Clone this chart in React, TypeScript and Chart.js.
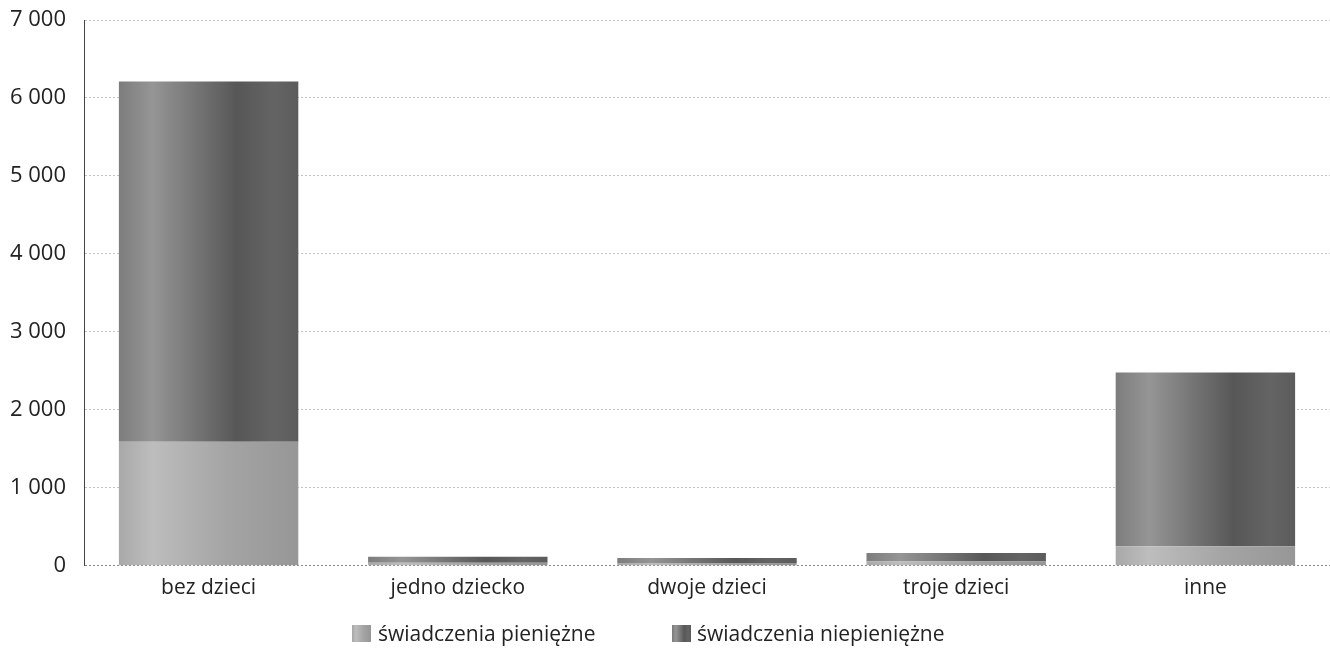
import React, { useEffect, useRef } from "react";
import { Chart, registerables } from "chart.js";

Chart.register(...registerables);

const categories = ["bez dzieci", "jedno dziecko", "dwoje dzieci", "troje dzieci", "inne"];
const pieniezne = [1590, 40, 35, 55, 250];
const niepieniezne = [4620, 75, 65, 110, 2230];
const seriesNames = ["świadczenia pieniężne", "świadczenia niepieniężne"];
const yTicks = [0, 1000, 2000, 3000, 4000, 5000, 6000, 7000];

const FONT = "'Open Sans', 'DejaVu Sans', sans-serif";

const pienStops: [number, string][] = [
  [0, "#a6a6a6"],
  [0.2, "#bdbdbd"],
  [0.6, "#a4a4a4"],
  [1, "#969696"],
];
const niepienStops: [number, string][] = [
  [0, "#7a7a7a"],
  [0.2, "#959595"],
  [0.65, "#575757"],
  [0.85, "#646464"],
  [1, "#5a5a5a"],
];

function barGradient(stops: [number, string][]) {
  return (ctx: any) => {
    const chart = ctx.chart;
    const xs = chart.scales?.x;
    if (ctx.type !== "data" || !xs || ctx.dataIndex === undefined) return stops[1][1];
    const c = xs.getPixelForValue(ctx.dataIndex);
    const step = categories.length > 1 ? xs.getPixelForValue(1) - xs.getPixelForValue(0) : 200;
    const w = step * 0.75;
    if (!isFinite(c) || !isFinite(w) || w <= 0) return stops[1][1];
    const g = chart.ctx.createLinearGradient(c - w / 2, 0, c + w / 2, 0);
    stops.forEach(([o, col]) => g.addColorStop(o, col));
    return g;
  };
}

function cssGradient(stops: [number, string][]) {
  return `linear-gradient(to right, ${stops.map(([o, c]) => `${c} ${o * 100}%`).join(", ")})`;
}

export default function App() {
  const ref = useRef<HTMLCanvasElement>(null);
  useEffect(() => {
    document.body.style.margin = "0";
    const chart = new Chart(ref.current!, {
      type: "bar",
      data: {
        labels: categories,
        datasets: [
          { label: seriesNames[0], data: pieniezne, backgroundColor: barGradient(pienStops), borderWidth: 0 },
          { label: seriesNames[1], data: niepieniezne, backgroundColor: barGradient(niepienStops), borderWidth: 0 },
        ],
      },
      options: {
        animation: false,
        responsive: false,
        layout: { padding: { top: 20, left: 9, right: 0, bottom: 38 } },
        plugins: {
          tooltip: { enabled: false },
          legend: { display: false },
        },
        scales: {
          x: {
            stacked: true,
            barPercentage: 0.75,
            categoryPercentage: 1,
            grid: { display: false, drawTicks: false },
            border: { display: false },
            ticks: { font: { family: FONT, size: 21 }, color: "#222", padding: 10 },
          } as any,
          y: {
            stacked: true,
            min: 0,
            max: 7000,
            afterBuildTicks: (axis: any) => {
              axis.ticks = yTicks.map((v) => ({ value: v }));
            },
            afterFit: (axis: any) => {
              axis.width = 75;
              axis.paddingTop = 0;
              axis.paddingBottom = 0;
            },
            grid: {
              color: (c: any) => (c.tick && c.tick.value === 0 ? "#8a8a8a" : "#c4c4c4"),
              drawTicks: false,
            },
            border: { display: true, color: "#444", width: 1, dash: [2, 2] },
            ticks: {
              font: { family: FONT, size: 22 },
              color: "#222",
              padding: 18,
              callback: (v: any) => Number(v).toLocaleString("en-US").replace(/,/g, " "),
            },
          } as any,
        },
      },
    } as any);
    chart.update();
    return () => chart.destroy();
  }, []);

  const legendText: React.CSSProperties = {
    position: "absolute",
    top: 619,
    fontFamily: FONT,
    fontSize: 21,
    lineHeight: "28px",
    color: "#222",
    whiteSpace: "nowrap",
  };
  const box: React.CSSProperties = { position: "absolute", top: 625, width: 19, height: 17 };

  return (
    <div style={{ position: "relative", width: 1330, height: 649 }}>
      <canvas ref={ref} width={1330} height={649} style={{ display: "block" }} />
      <div style={{ ...box, left: 352, background: cssGradient(pienStops) }} />
      <div style={{ ...legendText, left: 378 }}>{seriesNames[0]}</div>
      <div style={{ ...box, left: 672, background: cssGradient(niepienStops) }} />
      <div style={{ ...legendText, left: 697 }}>{seriesNames[1]}</div>
    </div>
  );
}
